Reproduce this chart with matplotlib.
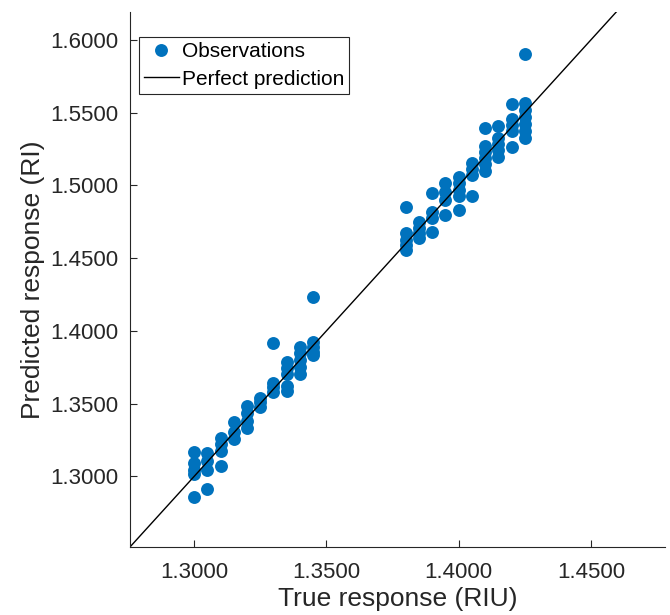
import numpy as np
import matplotlib.pyplot as plt

plt.rcParams['font.family'] = ['Liberation Sans', 'DejaVu Sans']

# true response (axis units) for each observation column
true_lo = [1.30] * 5 + [1.31] * 4 + [1.32] * 4 + [1.33] * 3 + [1.34] * 4 + \
          [1.35] * 3 + [1.36] * 4 + [1.37] * 5 + [1.38] * 5 + [1.39] * 5
pred_lo = [1.3165, 1.3089, 1.3041, 1.3014, 1.2856,
           1.3158, 1.3103, 1.3041, 1.2911,
           1.3261, 1.3220, 1.3172, 1.3069,
           1.3371, 1.3302, 1.3254,
           1.3487, 1.3439, 1.3384, 1.3336,
           1.3542, 1.3508, 1.3474,
           1.3920, 1.3645, 1.3611, 1.3577,
           1.3789, 1.3748, 1.3707, 1.3618, 1.3584,
           1.3892, 1.3851, 1.3803, 1.3755, 1.3707,
           1.4236, 1.3927, 1.3892, 1.3858, 1.3831]

true_hi = [1.46] * 5 + [1.47] * 4 + [1.48] * 4 + [1.49] * 4 + [1.50] * 5 + \
          [1.51] * 4 + [1.52] * 6 + [1.53] * 5 + [1.54] * 5 + [1.55] * 7
pred_hi = [1.4854, 1.4675, 1.4627, 1.4593, 1.4558,
           1.4751, 1.4709, 1.4675, 1.4641,
           1.4950, 1.4819, 1.4778, 1.4682,
           1.5018, 1.4957, 1.4902, 1.4799,
           1.5060, 1.5018, 1.4970, 1.4929, 1.4833,
           1.5156, 1.5114, 1.5073, 1.4929,
           1.5396, 1.5272, 1.5231, 1.5190, 1.5149, 1.5101,
           1.5410, 1.5327, 1.5286, 1.5245, 1.5197,
           1.5561, 1.5458, 1.5416, 1.5375, 1.5265,
           1.5904, 1.5568, 1.5519, 1.5471, 1.5423, 1.5375, 1.5327]

x_ticks = [1.30, 1.40, 1.50, 1.60]
x_tick_labels = ['1.3000', '1.3500', '1.4000', '1.4500']
y_ticks = [1.30, 1.35, 1.40, 1.45, 1.50, 1.55, 1.60]
y_tick_labels = ['1.3000', '1.3500', '1.4000', '1.4500', '1.5000', '1.5500', '1.6000']

true_resp = np.array(true_lo + true_hi)
pred_resp = np.array(pred_lo + pred_hi)

gray = '#262626'
fig = plt.figure(figsize=(6.7, 6.15), dpi=100)
ax = fig.add_axes([0.194, 0.1106, 0.7985, 0.87])

ax.plot(true_resp, pred_resp, 'o', color='#0072BD', markersize=9.3,
        markeredgewidth=0, label='Observations')

xlim = (1.2515, 1.6560)
ylim = (1.2515, 1.6192)
ax.plot(xlim, xlim, '-', color='black', linewidth=1.0, label='Perfect prediction')
ax.set_xlim(xlim)
ax.set_ylim(ylim)

ax.set_xticks(x_ticks)
ax.set_xticklabels(x_tick_labels)
ax.set_yticks(y_ticks)
ax.set_yticklabels(y_tick_labels)
ax.tick_params(direction='in', length=5, width=0.8, colors=gray, labelsize=16, pad=11)
ax.tick_params(axis='y', pad=8)

for s in ['top', 'right']:
    ax.spines[s].set_visible(False)
for s in ['left', 'bottom']:
    ax.spines[s].set_color(gray)
    ax.spines[s].set_linewidth(0.8)

ax.set_xlabel('True response (RIU)', fontsize=19, color=gray, labelpad=3)
ax.set_ylabel('Predicted response (RI)', fontsize=19, color=gray, labelpad=4)

leg = ax.legend(loc='upper left', bbox_to_anchor=(0.0168, 0.953), fontsize=15,
                frameon=True, fancybox=False, framealpha=1, edgecolor=gray,
                borderpad=0.25, labelspacing=0.4, handlelength=1.65,
                handletextpad=0.15, borderaxespad=0)
leg.get_frame().set_linewidth(0.8)
for t in leg.get_texts():
    t.set_color('black')

fig.savefig('out.png', dpi=100)
